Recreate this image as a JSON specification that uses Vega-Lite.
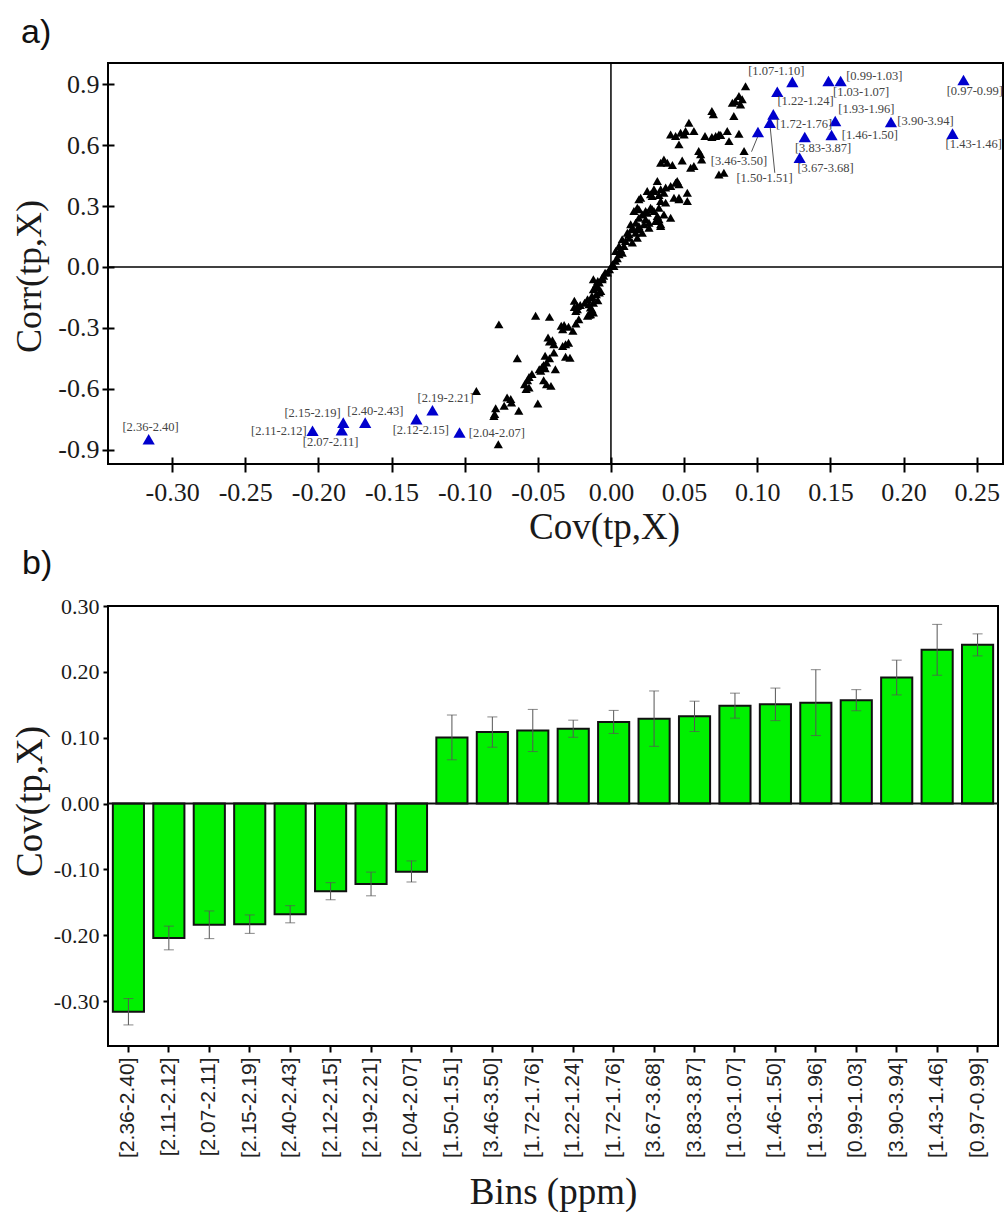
{
  "$schema": "https://vega.github.io/schema/vega-lite/v6.json",
  "background": "white",
  "padding": {"left": 10, "top": 15, "right": 0, "bottom": 0},
  "bounds": "flush",
  "spacing": 142,
  "config": {
    "view": {"stroke": "#000", "strokeWidth": 2},
    "axis": {"grid": false, "domain": false, "tickColor": "#000", "tickWidth": 2, "labelColor": "#1a1a1a", "titleColor": "#1a1a1a", "titleFontWeight": "normal", "labelFont": "Liberation Serif", "titleFont": "Liberation Serif"},
    "locale": {"number": {"decimal": ".", "thousands": ",", "grouping": [3], "currency": ["$", ""], "minus": "-"}}
  },
  "datasets": {
    "scatter": [
      {"cov":-0.092,"corr":-0.611},{"cov":-0.077,"corr":-0.874},{"cov":-0.0766,"corr":-0.283},{"cov":-0.0795,"corr":-0.725},{"cov":-0.0788,"corr":-0.696},{"cov":-0.080,"corr":-0.734},{"cov":-0.073,"corr":-0.684},{"cov":-0.071,"corr":-0.643},{"cov":-0.0685,"corr":-0.651},{"cov":-0.068,"corr":-0.668},{"cov":-0.063,"corr":-0.709},{"cov":-0.064,"corr":-0.450},{"cov":-0.0515,"corr":-0.241},{"cov":-0.042,"corr":-0.246},{"cov":-0.050,"corr":-0.673},{"cov":-0.058,"corr":-0.602},{"cov":-0.059,"corr":-0.578},{"cov":-0.057,"corr":-0.558},{"cov":-0.056,"corr":-0.542},{"cov":-0.054,"corr":-0.528},{"cov":-0.056,"corr":-0.594},
      {"cov":-0.046,"corr":-0.558},{"cov":-0.044,"corr":-0.578},{"cov":-0.041,"corr":-0.586},{"cov":-0.049,"corr":-0.504},{"cov":-0.047,"corr":-0.492},{"cov":-0.045,"corr":-0.499},{"cov":-0.048,"corr":-0.512},{"cov":-0.046,"corr":-0.483},{"cov":-0.044,"corr":-0.471},{"cov":-0.038,"corr":-0.504},{"cov":-0.045,"corr":-0.438},{"cov":-0.042,"corr":-0.450},{"cov":-0.039,"corr":-0.422},{"cov":-0.043,"corr":-0.348},{"cov":-0.040,"corr":-0.361},{"cov":-0.039,"corr":-0.381},{"cov":-0.042,"corr":-0.368},{"cov":-0.033,"corr":-0.389},{"cov":-0.031,"corr":-0.381},{"cov":-0.031,"corr":-0.443},{"cov":-0.028,"corr":-0.447},{"cov":-0.029,"corr":-0.373},{"cov":-0.034,"corr":-0.290},{"cov":-0.032,"corr":-0.286},{"cov":-0.029,"corr":-0.295},{"cov":-0.026,"corr":-0.315},{"cov":-0.024,"corr":-0.279},{"cov":-0.022,"corr":-0.258},{"cov":-0.033,"corr":-0.307},{"cov":-0.025,"corr":-0.197},{"cov":-0.023,"corr":-0.208},{"cov":-0.021,"corr":-0.187},{"cov":-0.018,"corr":-0.176},{"cov":-0.016,"corr":-0.159},{"cov":-0.014,"corr":-0.200},{"cov":-0.015,"corr":-0.236},{"cov":-0.012,"corr":-0.225},{"cov":-0.013,"corr":-0.151},{"cov":-0.010,"corr":-0.134},{"cov":-0.008,"corr":-0.126},{"cov":-0.009,"corr":-0.164},{"cov":-0.025,"corr":-0.167},{"cov":-0.023,"corr":-0.192},{"cov":-0.024,"corr":-0.217},{"cov":-0.016,"corr":-0.241},{"cov":-0.014,"corr":-0.233},{"cov":-0.013,"corr":-0.208},{"cov":-0.012,"corr":-0.176},{"cov":-0.015,"corr":-0.184},{"cov":-0.007,"corr":-0.118},{"cov":-0.009,"corr":-0.102},{"cov":-0.012,"corr":-0.061},{"cov":-0.010,"corr":-0.085},{"cov":-0.008,"corr":-0.077},{"cov":-0.006,"corr":-0.061},{"cov":-0.005,"corr":-0.044},{"cov":-0.004,"corr":-0.028},{"cov":-0.001,"corr":-0.011},{"cov":0.001,"corr":0.013},{"cov":-0.012,"corr":-0.110},{"cov":-0.010,"corr":-0.094},{"cov":-0.009,"corr":-0.069},{"cov":-0.006,"corr":-0.053},{"cov":-0.0025,"corr":-0.028},{"cov":-0.013,"corr":-0.143},
      {"cov":0.002,"corr":0.005},{"cov":0.003,"corr":0.030},{"cov":0.0043,"corr":0.043},{"cov":0.0055,"corr":0.062},{"cov":0.0077,"corr":0.070},{"cov":0.0066,"corr":0.087},{"cov":0.0089,"corr":0.103},{"cov":0.0077,"corr":0.136},{"cov":0.010,"corr":0.128},{"cov":0.0146,"corr":0.120},{"cov":0.018,"corr":0.144},{"cov":0.0123,"corr":0.144},{"cov":0.0112,"corr":0.169},{"cov":0.0169,"corr":0.169},{"cov":0.0214,"corr":0.169},{"cov":0.0146,"corr":0.186},{"cov":0.0191,"corr":0.186},{"cov":0.0135,"corr":0.210},{"cov":0.0032,"corr":0.079},{"cov":0.0055,"corr":0.103},{"cov":0.0123,"corr":0.161},{"cov":0.0146,"corr":0.193},
      {"cov":0.0157,"corr":0.276},{"cov":0.0191,"corr":0.284},{"cov":0.0214,"corr":0.259},{"cov":0.0248,"corr":0.267},{"cov":0.0271,"corr":0.292},{"cov":0.0294,"corr":0.276},{"cov":0.0317,"corr":0.251},{"cov":0.0237,"corr":0.235},{"cov":0.026,"corr":0.218},{"cov":0.0305,"corr":0.226},{"cov":0.034,"corr":0.210},{"cov":0.0408,"corr":0.243},{"cov":0.0191,"corr":0.243},{"cov":0.0169,"corr":0.218},{"cov":0.0226,"corr":0.210},{"cov":0.0191,"corr":0.202},{"cov":0.026,"corr":0.193},{"cov":0.034,"corr":0.202},{"cov":0.0362,"corr":0.259},{"cov":0.0328,"corr":0.235},{"cov":0.018,"corr":0.292},{"cov":0.0237,"corr":0.276},{"cov":0.0282,"corr":0.284},{"cov":0.0328,"corr":0.292},{"cov":0.0203,"corr":0.341},
      {"cov":0.0317,"corr":0.423},{"cov":0.0453,"corr":0.423},{"cov":0.0408,"corr":0.399},{"cov":0.0248,"corr":0.374},{"cov":0.0294,"corr":0.374},{"cov":0.0328,"corr":0.355},{"cov":0.0362,"corr":0.366},{"cov":0.0465,"corr":0.333},{"cov":0.0522,"corr":0.366},{"cov":0.0522,"corr":0.325},{"cov":0.0191,"corr":0.333},{"cov":0.0282,"corr":0.350},{"cov":0.034,"corr":0.325},{"cov":0.0374,"corr":0.317},{"cov":0.0431,"corr":0.341},{"cov":0.0294,"corr":0.383},{"cov":0.0271,"corr":0.358},{"cov":0.034,"corr":0.383},{"cov":0.0374,"corr":0.391},{"cov":0.0442,"corr":0.415},{"cov":0.0465,"corr":0.407},{"cov":0.0465,"corr":0.341},
      {"cov":0.0362,"corr":0.530},{"cov":0.034,"corr":0.514},{"cov":0.0385,"corr":0.514},{"cov":0.042,"corr":0.502},{"cov":0.0487,"corr":0.525},{"cov":0.0545,"corr":0.489},{"cov":0.0567,"corr":0.497},{"cov":0.060,"corr":0.571},{"cov":0.0613,"corr":0.555},{"cov":0.062,"corr":0.530},{"cov":0.0738,"corr":0.456},{"cov":0.0772,"corr":0.464},
      {"cov":0.0408,"corr":0.653},{"cov":0.0442,"corr":0.645},{"cov":0.0476,"corr":0.661},{"cov":0.051,"corr":0.670},{"cov":0.0567,"corr":0.670},{"cov":0.0465,"corr":0.604},{"cov":0.05,"corr":0.653},{"cov":0.0533,"corr":0.710},{"cov":0.0643,"corr":0.645},{"cov":0.0716,"corr":0.645},{"cov":0.0738,"corr":0.653},{"cov":0.0795,"corr":0.670},{"cov":0.0807,"corr":0.620},{"cov":0.0875,"corr":0.656},{"cov":0.075,"corr":0.650},{"cov":0.069,"corr":0.640},{"cov":0.091,"corr":0.571},
      {"cov":0.069,"corr":0.768},{"cov":0.070,"corr":0.752},{"cov":0.084,"corr":0.744},{"cov":0.092,"corr":0.891},{"cov":0.0875,"corr":0.842},{"cov":0.085,"corr":0.817},{"cov":0.083,"corr":0.809},{"cov":0.0886,"corr":0.801},{"cov":0.0897,"corr":0.826}
    ],
    "bins": [
      {"bin":"[2.36-2.40]","cov":-0.316,"corr":-0.849,"lx":-0.3147,"ly":-0.788},
      {"bin":"[2.11-2.12]","cov":-0.204,"corr":-0.807,"lx":-0.227,"ly":-0.807},
      {"bin":"[2.07-2.11]","cov":-0.184,"corr":-0.804,"lx":-0.1916,"ly":-0.862},
      {"bin":"[2.15-2.19]","cov":-0.183,"corr":-0.767,"lx":-0.204,"ly":-0.720},
      {"bin":"[2.40-2.43]","cov":-0.168,"corr":-0.767,"lx":-0.161,"ly":-0.712},
      {"bin":"[2.12-2.15]","cov":-0.133,"corr":-0.750,"lx":-0.130,"ly":-0.804},
      {"bin":"[2.19-2.21]","cov":-0.122,"corr":-0.706,"lx":-0.113,"ly":-0.647},
      {"bin":"[2.04-2.07]","cov":-0.1035,"corr":-0.816,"lx":-0.078,"ly":-0.816},
      {"bin":"[3.46-3.50]","cov":0.1005,"corr":0.665,"lx":0.0875,"ly":0.522},
      {"bin":"[1.50-1.51]","cov":0.1086,"corr":0.711,"lx":0.105,"ly":0.440},
      {"bin":"[1.72-1.76]","cov":0.111,"corr":0.752,"lx":0.132,"ly":0.703},
      {"bin":"[1.22-1.24]","cov":0.1137,"corr":0.863,"lx":0.133,"ly":0.817},
      {"bin":"[1.07-1.10]","cov":0.124,"corr":0.912,"lx":0.113,"ly":0.965},
      {"bin":"[3.67-3.68]","cov":0.129,"corr":0.538,"lx":0.1467,"ly":0.486},
      {"bin":"[3.83-3.87]","cov":0.1325,"corr":0.640,"lx":0.145,"ly":0.584},
      {"bin":"[1.03-1.07]","cov":0.1487,"corr":0.916,"lx":0.171,"ly":0.863},
      {"bin":"[1.46-1.50]","cov":0.1508,"corr":0.650,"lx":0.177,"ly":0.650},
      {"bin":"[1.93-1.96]","cov":0.1533,"corr":0.719,"lx":0.1746,"ly":0.776},
      {"bin":"[0.99-1.03]","cov":0.157,"corr":0.916,"lx":0.180,"ly":0.940},
      {"bin":"[3.90-3.94]","cov":0.1914,"corr":0.714,"lx":0.215,"ly":0.719},
      {"bin":"[1.43-1.46]","cov":0.2335,"corr":0.657,"lx":0.248,"ly":0.607},
      {"bin":"[0.97-0.99]","cov":0.241,"corr":0.921,"lx":0.2487,"ly":0.867}
    ],
    "leaders": [
      {"x":0.0961,"y":0.568,"x2":0.1005,"y2":0.645},
      {"x":0.112,"y":0.464,"x2":0.1087,"y2":0.700}
    ],
    "bars": [
      {"bin":"[2.36-2.40]","cov":-0.316,"lo":-0.336,"hi":-0.296},
      {"bin":"[2.11-2.12]","cov":-0.204,"lo":-0.222,"hi":-0.186},
      {"bin":"[2.07-2.11]","cov":-0.184,"lo":-0.205,"hi":-0.163},
      {"bin":"[2.15-2.19]","cov":-0.183,"lo":-0.197,"hi":-0.169},
      {"bin":"[2.40-2.43]","cov":-0.168,"lo":-0.181,"hi":-0.155},
      {"bin":"[2.12-2.15]","cov":-0.133,"lo":-0.146,"hi":-0.120},
      {"bin":"[2.19-2.21]","cov":-0.122,"lo":-0.140,"hi":-0.104},
      {"bin":"[2.04-2.07]","cov":-0.1035,"lo":-0.119,"hi":-0.087},
      {"bin":"[1.50-1.51]","cov":0.1005,"lo":0.0665,"hi":0.1345},
      {"bin":"[3.46-3.50]","cov":0.1086,"lo":0.0856,"hi":0.1316},
      {"bin":"[1.72-1.76]","cov":0.111,"lo":0.079,"hi":0.143},
      {"bin":"[1.22-1.24]","cov":0.1137,"lo":0.1007,"hi":0.1267},
      {"bin":"[1.72-1.76] ","cov":0.124,"lo":0.1065,"hi":0.1415},
      {"bin":"[3.67-3.68]","cov":0.129,"lo":0.087,"hi":0.171},
      {"bin":"[3.83-3.87]","cov":0.1325,"lo":0.1095,"hi":0.1555},
      {"bin":"[1.03-1.07]","cov":0.1487,"lo":0.1297,"hi":0.1677},
      {"bin":"[1.46-1.50]","cov":0.1508,"lo":0.126,"hi":0.1754},
      {"bin":"[1.93-1.96]","cov":0.1533,"lo":0.1033,"hi":0.2033},
      {"bin":"[0.99-1.03]","cov":0.157,"lo":0.141,"hi":0.173},
      {"bin":"[3.90-3.94]","cov":0.1914,"lo":0.165,"hi":0.2178},
      {"bin":"[1.43-1.46]","cov":0.2335,"lo":0.1949,"hi":0.2721},
      {"bin":"[0.97-0.99]","cov":0.241,"lo":0.2243,"hi":0.2577}
    ],
    "zero": [{"zero": 0}]
  },
  "vconcat": [
    {
      "width": 895,
      "height": 401,
      "title": {"text": "a)", "anchor": "start", "frame": "group", "dx": -87, "offset": -15, "baseline": "alphabetic", "fontSize": 34, "font": "Liberation Sans", "fontWeight": "normal", "color": "#111"},
      "resolve": {"axis": {"x": "independent", "y": "independent"}},
      "layer": [
        {
          "data": {"name": "scatter"},
          "mark": {"type": "point", "shape": "triangle-up", "filled": true, "color": "#000", "size": 85, "opacity": 1},
          "encoding": {
            "x": {"field": "cov", "type": "quantitative", "scale": {"domain": [-0.3438, 0.268], "nice": false, "zero": false},
              "axis": {"orient": "bottom", "values": [-0.30, -0.25, -0.20, -0.15, -0.10, -0.05, 0.00, 0.05, 0.10, 0.15, 0.20, 0.25], "format": ".2f", "tickSize": 8, "labelFontSize": 26, "labelPadding": 7, "title": "Cov(tp,X)", "titleFontSize": 37, "titlePadding": 4, "titleX": 496}},
            "y": {"field": "corr", "type": "quantitative", "scale": {"domain": [-0.971, 1.005], "nice": false, "zero": false},
              "axis": {"orient": "left", "values": [-0.9, -0.6, -0.3, 0.0, 0.3, 0.6, 0.9], "format": ".1f", "tickSize": 6, "labelFontSize": 26, "labelPadding": 3, "title": "Corr(tp,X)", "titleFontSize": 36, "titlePadding": 9, "titleY": 213}}
          }
        },
        {
          "data": {"name": "zero"},
          "mark": {"type": "rule", "color": "#000", "strokeWidth": 1.5},
          "encoding": {"x": {"field": "zero", "type": "quantitative",
            "axis": {"orient": "bottom", "values": [-0.30, -0.25, -0.20, -0.15, -0.10, -0.05, 0.00, 0.05, 0.10, 0.15, 0.20, 0.25], "offset": -7, "tickSize": 7, "labels": false, "title": null}}}
        },
        {
          "data": {"name": "zero"},
          "mark": {"type": "rule", "color": "#000", "strokeWidth": 1.5},
          "encoding": {"y": {"field": "zero", "type": "quantitative",
            "axis": {"orient": "left", "values": [-0.9, -0.6, -0.3, 0.0, 0.3, 0.6, 0.9], "offset": -6, "tickSize": 6, "labels": false, "title": null}}}
        },
        {
          "data": {"name": "leaders"},
          "mark": {"type": "rule", "color": "#555", "strokeWidth": 1},
          "encoding": {
            "x": {"field": "x", "type": "quantitative", "axis": null},
            "y": {"field": "y", "type": "quantitative", "axis": null},
            "x2": {"field": "x2"},
            "y2": {"field": "y2"}
          }
        },
        {
          "data": {"name": "bins"},
          "mark": {"type": "point", "shape": "triangle-up", "filled": true, "color": "#0000cd", "size": 150, "opacity": 1},
          "encoding": {
            "x": {"field": "cov", "type": "quantitative", "axis": null},
            "y": {"field": "corr", "type": "quantitative", "axis": null}
          }
        },
        {
          "data": {"name": "bins"},
          "mark": {"type": "text", "font": "Liberation Serif", "fontSize": 12.5, "color": "#444", "align": "center", "baseline": "middle"},
          "encoding": {
            "x": {"field": "lx", "type": "quantitative", "axis": null},
            "y": {"field": "ly", "type": "quantitative", "axis": null},
            "text": {"field": "bin"}
          }
        }
      ]
    },
    {
      "width": 890,
      "height": 440,
      "title": {"text": "b)", "anchor": "start", "frame": "group", "dx": -86, "offset": -13, "baseline": "alphabetic", "fontSize": 34, "font": "Liberation Sans", "fontWeight": "normal", "color": "#111"},
      "layer": [
        {
          "data": {"name": "bars"},
          "mark": {"type": "bar", "color": "#00f000", "stroke": "#111", "strokeWidth": 2},
          "encoding": {
            "x": {"field": "bin", "type": "nominal", "sort": null, "scale": {"paddingInner": 0.23, "paddingOuter": 0.12},
              "axis": {"labelAngle": -90, "labelFont": "Liberation Sans", "labelFontSize": 21, "labelColor": "#222", "tickSize": 6, "labelPadding": 5, "title": "Bins (ppm)", "titleFontSize": 37, "titlePadding": 17}},
            "y": {"field": "cov", "type": "quantitative", "scale": {"domain": [-0.368, 0.30], "nice": false, "zero": false},
              "axis": {"values": [-0.3, -0.2, -0.1, 0.0, 0.1, 0.2, 0.3], "format": ".2f", "tickSize": 5, "labelFontSize": 22, "labelPadding": 4, "title": "Cov(tp,X)", "titleFontSize": 37, "titlePadding": 4, "titleY": 195}}
          }
        },
        {
          "data": {"name": "zero"},
          "mark": {"type": "rule", "color": "#111", "strokeWidth": 2},
          "encoding": {"y": {"field": "zero", "type": "quantitative"}}
        },
        {
          "data": {"name": "bars"},
          "mark": {"type": "rule", "color": "#555", "strokeWidth": 1},
          "encoding": {
            "x": {"field": "bin", "type": "nominal", "sort": null},
            "y": {"field": "lo", "type": "quantitative"},
            "y2": {"field": "hi"}
          }
        },
        {
          "data": {"name": "bars"},
          "mark": {"type": "tick", "color": "#555", "size": 10, "thickness": 1},
          "encoding": {
            "x": {"field": "bin", "type": "nominal", "sort": null},
            "y": {"field": "lo", "type": "quantitative"}
          }
        },
        {
          "data": {"name": "bars"},
          "mark": {"type": "tick", "color": "#555", "size": 10, "thickness": 1},
          "encoding": {
            "x": {"field": "bin", "type": "nominal", "sort": null},
            "y": {"field": "hi", "type": "quantitative"}
          }
        }
      ]
    }
  ]
}
